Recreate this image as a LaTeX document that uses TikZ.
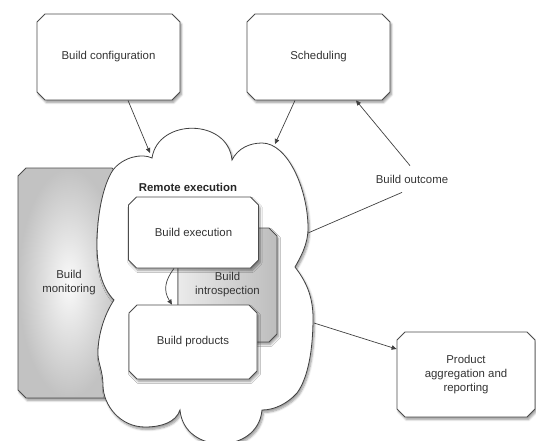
\documentclass[tikz,border=0pt]{standalone}
\usepackage{fontspec}
\setmainfont{Liberation Sans}
\usetikzlibrary{arrows.meta,shapes.misc,shadows.blur}
\begin{document}
\begin{tikzpicture}[x=1pt,y=1pt,
  font=\fontsize{11.4}{14}\selectfont,
  shad/.style={blur shadow={shadow xshift=1.5pt, shadow yshift=-2.5pt, shadow opacity=40, shadow blur steps=6}},
  boxbase/.style={chamfered rectangle, chamfered rectangle xsep=4pt, chamfered rectangle ysep=4pt,
    draw=black!70, line width=0.8pt, inner sep=0pt, align=center, text=black!80, shad},
  box/.style={boxbase, fill=white},
  conn/.style={draw=black!75, line width=0.7pt},
  arr/.style={conn, -{Triangle[length=5pt,width=4.5pt]}}
]
\useasboundingbox (0,0) rectangle (536,-440);

% Build monitoring (behind cloud)
\node[boxbase, inner color=black!2, outer color=black!24, minimum width=102pt, minimum height=230pt]
  (mon) at (69,-283) {Build\\monitoring};

% Cloud
\path[draw=black!75, line width=0.8pt, fill=white, shad]
 (152,-158) .. controls (158,-118) and (228,-118) .. (232,-160)
 .. controls (238,-148) and (250,-143) .. (262,-143)
 .. controls (288,-143) and (308,-190) .. (308,-228)
 .. controls (308,-245) and (300,-258) .. (295,-267)
 .. controls (305,-280) and (313,-295) .. (313,-318)
 .. controls (313,-350) and (308,-378) .. (297,-393)
 .. controls (288,-403) and (275,-410) .. (262,-410)
 .. controls (258,-455) and (184,-455) .. (180,-410)
 .. controls (176,-422) and (162,-427) .. (145,-427)
 .. controls (120,-427) and (103,-405) .. (103,-385)
 .. controls (103,-370) and (97,-362) .. (98,-350)
 .. controls (99,-330) and (106,-312) .. (114,-300)
 .. controls (102,-288) and (97,-268) .. (97,-245)
 .. controls (97,-215) and (103,-185) .. (113,-170)
 .. controls (123,-157) and (142,-153) .. (152,-158) -- cycle;

\coordinate (c1) at (150,-153);
\coordinate (c2) at (275,-144);
\coordinate (c3) at (308,-233);
\coordinate (c4) at (314,-323);

\node[font=\fontsize{11.4}{14}\selectfont\bfseries, text=black!85] (rem) at (188,-187) {Remote execution};

% Build introspection (behind execution/products)
\node[boxbase, left color=black!8, right color=black!26, minimum width=99pt, minimum height=114pt]
  (intro) at (227.5,-285) {Build\\introspection};

\node[box, minimum width=130pt, minimum height=71pt] (exe) at (193.5,-232.5) {Build execution};
\node[box, minimum width=128pt, minimum height=74pt] (prod) at (193,-342) {Build products};

\node[box, minimum width=143pt, minimum height=86pt] (bc) at (108.5,-57) {Build configuration};
\node[box, minimum width=143pt, minimum height=86pt] (sch) at (318.5,-57) {Scheduling};
\node[box, minimum width=138pt, minimum height=85pt] (pa) at (466,-374.5) {Product\\aggregation and\\reporting};

\node[text=black!80, inner ysep=9pt] (bo) at (412,-179) {Build outcome};

% connectors
\draw[arr] ([xshift=19.5pt]bc.south) -- (c1);
\draw[arr] ([xshift=-23.5pt]sch.south) -- (c2);
\draw[conn] (c3) -- ([xshift=-10pt]bo.south);
\draw[arr] ([xshift=-2pt]bo.north) -- ([xshift=37.5pt]sch.south);
\draw[arr] (c4) -- ([yshift=25.5pt]pa.west);
\draw[arr] ([xshift=-19.5pt]exe.south) .. controls +(-9,-12) and +(-9,14) .. ([xshift=-21pt]prod.north);
\end{tikzpicture}
\end{document}
